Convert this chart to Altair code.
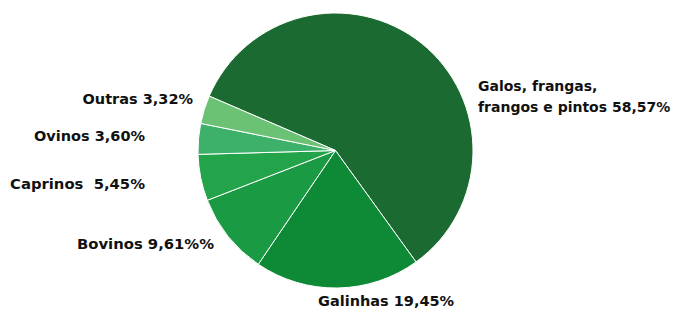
import math
import altair as alt
import pandas as pd

categories = ["Galos, frangas, frangos e pintos", "Galinhas", "Bovinos", "Caprinos", "Ovinos", "Outras"]
values = [58.57, 19.45, 9.61, 5.45, 3.60, 3.32]
label_texts = [
    ["Galos, frangas,", "frangos e pintos 58,57%"],
    "Galinhas 19,45%",
    "Bovinos 9,61%%",
    "Caprinos\u00a0\u00a05,45%",
    "Ovinos 3,60%",
    "Outras 3,32%",
]
colors = ["#1b6a31", "#0e8a37", "#1a9a42", "#24a44a", "#3db06a", "#6cc274"]

df = pd.DataFrame({"cat": categories, "val": values, "idx": list(range(len(values)))})

W, H = 666, 304
cx, cy, R = 327.5, 142.5, 137.5
start = math.radians(-66.7)

pie = alt.Chart(df).mark_arc(stroke="white", strokeWidth=1, outerRadius=R).encode(
    theta=alt.Theta("val:Q", stack=True, scale=alt.Scale(range=[start, start + 2 * math.pi])),
    order=alt.Order("idx:Q"),
    color=alt.Color("cat:N", scale=alt.Scale(domain=categories, range=colors), legend=None),
    x=alt.value(cx),
    y=alt.value(cy),
)

# label layout: (x, y, align, size)
layout = [
    (470, 79, "left", 14),
    (310, 294, "left", 14.5),
    (206, 237, "right", 14.8),
    (137, 177, "right", 14.8),
    (137, 129, "right", 14.5),
    (185, 92, "right", 14.5),
]

layers = [pie]
for txt, (lx, ly, al, fs) in zip(label_texts, layout):
    t = alt.Chart(pd.DataFrame({"t": [0]})).mark_text(
        text=txt, align=al, baseline="middle", font="DejaVu Sans",
        fontWeight="bold", fontSize=fs, color="#111111", lineHeight=21,
    ).encode(x=alt.value(lx), y=alt.value(ly))
    layers.append(t)

chart = alt.layer(*layers).properties(
    width=W, height=H, autosize=alt.AutoSizeParams(type="none"), padding=0
).configure_view(stroke=None)

chart.save("out.html", embed_options={"renderer": "svg", "actions": False})
